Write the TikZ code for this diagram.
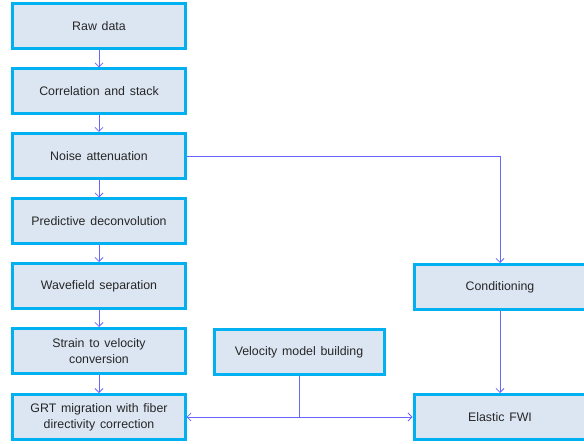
\documentclass[tikz,border=0pt]{standalone}
\usepackage{fontspec}
\setmainfont{Liberation Sans}[WordSpace=1.4]
\usetikzlibrary{arrows.meta}
\definecolor{boxline}{HTML}{00B0F0}
\definecolor{boxfill}{HTML}{DCE6F2}
\definecolor{flowline}{HTML}{6666FF}
\definecolor{boxtext}{HTML}{262626}
\begin{document}
\begin{tikzpicture}[x=1bp, y=-1bp, flow/.style={draw=flowline, line width=0.8bp, -{Straight Barb[length=4bp,width=8bp]}}, main node/.style={rectangle, draw=boxline, fill=boxfill, text=boxtext, line width=3bp, minimum width=172bp, minimum height=45bp, align=center, inner sep=2bp, font=\fontsize{12.4}{16}\selectfont}]
\useasboundingbox (0,0) rectangle (584,444);
\begin{scope}
\node[main node] (raw) at (99,26.5) {Raw data};
\node[main node] (corr) at (99,91.5) {Correlation and stack};
\node[main node] (noise) at (99,156) {Noise attenuation};
\node[main node] (decon) at (99,221.5) {Predictive deconvolution};
\node[main node] (wave) at (99,286) {Wavefield separation};
\node[main node] (strain) at (99,351) {Strain to velocity\\conversion};
\node[main node] (grt) at (99,417) {GRT migration with fiber\\directivity correction};
\node[main node, minimum width=170bp] (vel) at (299,352) {Velocity model building};
\node[main node] (cond) at (500,287) {Conditioning};
\node[main node] (fwi) at (500,417) {Elastic FWI};
%\node[main node] () at (,) {};
\end{scope}
\begin{scope}
\draw[flow] (raw) -- (corr);
\draw[flow] (corr) -- (noise);
\draw[flow] (noise) -- (decon);
\draw[flow] (decon) -- (wave);
\draw[flow] (wave) -- (strain);
\draw[flow] (strain) -- (grt);
\draw[flow] (noise.east) -| (cond.north);
\draw[flow] (cond) -- (fwi);
\coordinate (split) at (vel.south |- grt.east);
\draw[flowline, line width=0.8bp] (vel.south) -- (split);
\draw[flow] (split) -- (grt.east);
\draw[flow] (split) -- (fwi.west);
\end{scope}
\end{tikzpicture}
\end{document}
